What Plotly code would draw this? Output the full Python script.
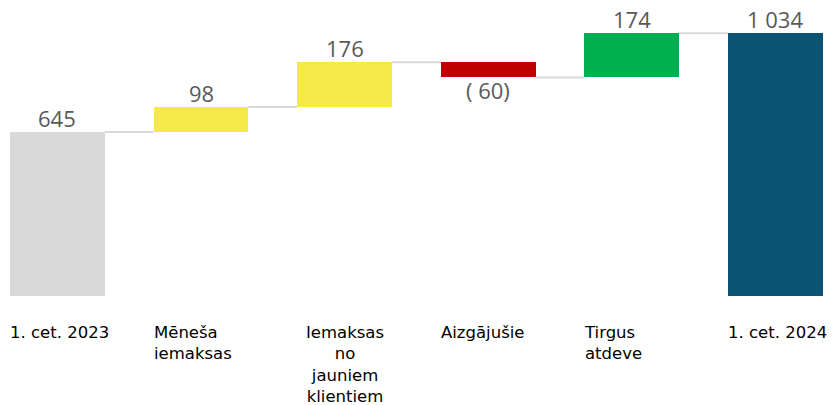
import plotly.graph_objects as go

categories = ["1. cet. 2023", "Mēneša<br>iemaksas", "Iemaksas<br>no<br>jauniem<br>klientiem",
              "Aizgājušie", "Tirgus<br>atdeve", "1. cet. 2024"]
values = [645, 98, 176, -60, 174, 1034]
measures = ["absolute", "relative", "relative", "relative", "relative", "total"]
value_labels = ["645", "98", "176", "( 60)", "174", "1 034"]
colors = ["#d9d9d9", "#f5e94a", "#f5e94a", "#c00000", "#00b050", "#0b5372"]
label_align = ["left", "left", "center", "left", "left", "left"]

# compute bases and cumulative levels from data
bases, heights, levels = [], [], []
running = 0
for v, m in zip(values, measures):
    if m == "absolute":
        bases.append(0); heights.append(v); running = v
    elif m == "total":
        bases.append(0); heights.append(running)
    else:
        bases.append(running); heights.append(v); running += v
    levels.append(running)

W = 0.66
xs = list(range(len(values)))

fig = go.Figure()
# connectors
cx, cy = [], []
for i in range(len(values) - 1):
    cx += [i + W / 2, i + 1 - W / 2, None]
    cy += [levels[i], levels[i], None]
fig.add_trace(go.Scatter(x=cx, y=cy, mode="lines", line=dict(color="#d9d9d9", width=2),
                         hoverinfo="skip", showlegend=False))
fig.add_trace(go.Bar(x=xs, y=heights, base=bases, width=W, marker=dict(color=colors, line=dict(width=0)),
                     showlegend=False, hoverinfo="skip"))

# value labels
for i, (b, h, t) in enumerate(zip(bases, heights, value_labels)):
    if h >= 0:
        fig.add_annotation(x=i, y=b + h, text=t, showarrow=False, xanchor="center",
                           yanchor="bottom", yshift=-3,
                           font=dict(size=22, color="#595959", family="Open Sans"))
    else:
        fig.add_annotation(x=i, y=b + h, text=t, showarrow=False, xanchor="center",
                           yanchor="top", yshift=4,
                           font=dict(size=22, color="#595959", family="Open Sans"))

# category labels
for i, (c, al) in enumerate(zip(categories, label_align)):
    f = dict(size=16.5, color="#000000", family="DejaVu Sans")
    if al == "center":
        fig.add_annotation(x=i, xref="x", y=-0.0845, yref="paper", text=c, showarrow=False,
                           xanchor="center", yanchor="top", align="center", font=f)
    else:
        fig.add_annotation(x=i - W / 2, xref="x", y=-0.0845, yref="paper", text=c, showarrow=False,
                           xanchor="left", yanchor="top", align="left", font=f, xshift=-2)

fig.update_layout(
    width=840, height=405, margin=dict(l=0, r=0, t=0, b=109),
    plot_bgcolor="white", paper_bgcolor="white", bargap=0,
    xaxis=dict(range=[-0.4, 5.45], visible=False),
    yaxis=dict(range=[0, 1163.5], visible=False),
)
fig.write_html("out.html", config={"displayModeBar": False},
               post_script="document.body.style.margin='0';")
